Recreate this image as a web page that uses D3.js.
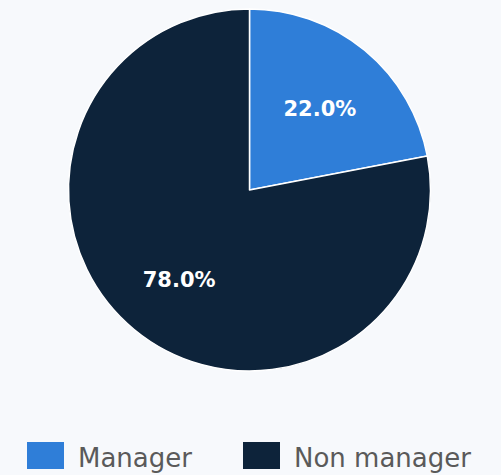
<!DOCTYPE html>
<html>
<head>
<meta charset="utf-8">
<script src="https://cdn.jsdelivr.net/npm/d3@7"></script>
<style>
  body { margin: 0; background: #f7f9fc; }
  svg { display: block; font-family: "DejaVu Sans", sans-serif; }
</style>
</head>
<body>
<svg id="chart"></svg>
<script>
// data
var categories = ["Manager", "Non manager"];
var shares = [22.0, 78.0];
var colors = ["#2f7ed8", "#0d233a"];

var svgWidth = 501;
var svgHeight = 475;
var cx = 249.5, cy = 190, radius = 181;

var svg = d3.select("#chart")
  .attr("width", svgWidth)
  .attr("height", svgHeight);

var pieData = d3.pie().sort(null).value(d => d)(shares);

var arc = d3.arc().innerRadius(0).outerRadius(radius);
var labelArc = d3.arc().innerRadius(radius * 0.61).outerRadius(radius * 0.61);

var pieGroup = svg.append("g")
  .attr("transform", `translate(${cx}, ${cy})`);

pieGroup.selectAll("path")
  .data(pieData)
  .enter()
  .append("path")
  .attr("d", arc)
  .attr("fill", (d, i) => colors[i])
  .attr("stroke", "#ffffff")
  .attr("stroke-width", 1.5)
  .attr("stroke-linejoin", "round");

pieGroup.selectAll("text")
  .data(pieData)
  .enter()
  .append("text")
  .attr("transform", d => `translate(${labelArc.centroid(d)})`)
  .attr("text-anchor", "middle")
  .attr("dy", "0.55em")
  .attr("fill", "#ffffff")
  .attr("font-size", 21)
  .attr("font-weight", "bold")
  .text(d => d.value.toFixed(1) + "%");

// legend
var legendX = [27, 243];
var legend = svg.selectAll(".legend")
  .data(categories)
  .enter()
  .append("g")
  .attr("class", "legend")
  .attr("transform", (d, i) => `translate(${legendX[i]}, 442)`);

legend.append("rect")
  .attr("width", 37)
  .attr("height", 27)
  .attr("fill", (d, i) => colors[i]);

legend.append("text")
  .attr("x", 51)
  .attr("y", 25)
  .attr("font-size", 26)
  .attr("fill", "#5a5a5a")
  .text(d => d);
</script>
</body>
</html>
